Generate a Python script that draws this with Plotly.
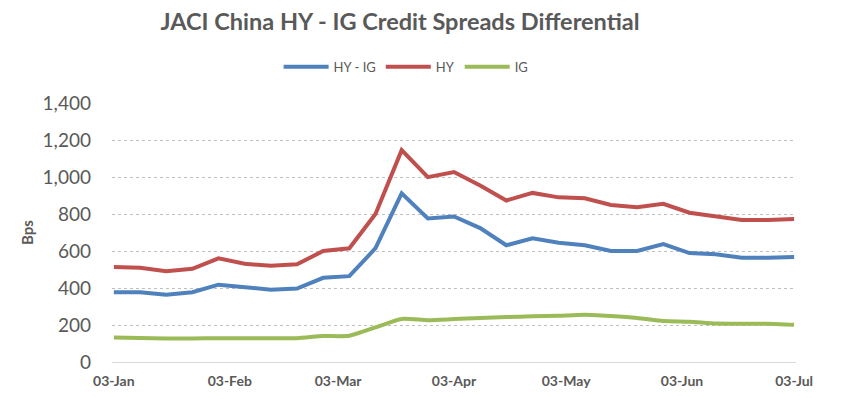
import plotly.graph_objects as go
import pandas as pd

dates = pd.date_range("2020-01-03", periods=27, freq="7D")

hy_minus_ig = [377, 377, 364, 377, 418, 404, 391, 397, 455, 464, 615, 912, 776, 787,
               724, 631, 669, 645, 631, 600, 600, 637, 589, 582, 564, 564, 567]
hy = [514, 509, 491, 504, 560, 531, 520, 528, 600, 615, 800, 1145, 999, 1027,
      954, 873, 914, 890, 885, 849, 836, 855, 807, 785, 767, 767, 773]
ig = [132, 130, 127, 127, 129, 129, 129, 129, 140, 142, 187, 233, 226, 232,
      238, 243, 247, 250, 255, 248, 238, 222, 218, 208, 207, 207, 201]

tick_dates = ["2020-01-03", "2020-02-03", "2020-03-03", "2020-04-03",
              "2020-05-03", "2020-06-03", "2020-07-03"]
tick_text = ["03-Jan", "03-Feb", "03-Mar", "03-Apr", "03-May", "03-Jun", "03-Jul"]
y_ticks = [0, 200, 400, 600, 800, 1000, 1200, 1400]

FONT = "Lato"
GREY = "#595959"

# page body has an 8px default margin, so the figure is drawn 8px smaller
W, H = 849, 391

fig = go.Figure()
fig.add_trace(go.Scatter(x=dates, y=hy_minus_ig, name="HY - IG", mode="lines",
                         line=dict(color="#4F81BD", width=4)))
fig.add_trace(go.Scatter(x=dates, y=hy, name="HY", mode="lines",
                         line=dict(color="#C0504D", width=4)))
fig.add_trace(go.Scatter(x=dates, y=ig, name="IG", mode="lines",
                         line=dict(color="#9BBB59", width=4, shape="spline", smoothing=0.6)))

fig.update_layout(
    width=W, height=H,
    paper_bgcolor="white", plot_bgcolor="white",
    margin=dict(l=104, r=61, t=95, b=37, autoexpand=False),
    font=dict(family=FONT, color=GREY),
    title=dict(text="<b>JACI China HY - IG Credit Spreads Differential</b>",
               x=392 / W, xanchor="center", y=1 - 14 / H, yanchor="middle",
               font=dict(size=23.5, color=GREY, family=FONT)),
    legend=dict(orientation="h", x=0.43, xanchor="center", y=1.14, yanchor="middle",
                font=dict(size=13, color=GREY, family=FONT),
                itemwidth=45, tracegroupgap=0, bgcolor="rgba(0,0,0,0)"),
    showlegend=True,
)
fig.update_xaxes(
    type="date", range=["2020-01-02 12:00", "2020-07-03 12:00"],
    tickvals=tick_dates, ticktext=[f"<b>{t}</b>" for t in tick_text],
    tickfont=dict(size=14, color=GREY, family=FONT),
    showgrid=False, showline=False, zeroline=False, ticks="",
    ticklabelstandoff=9,
)
fig.update_yaxes(
    range=[0, 1400], tickvals=y_ticks, tickformat=",d",
    tickfont=dict(size=19, color=GREY, family=FONT),
    showgrid=True, gridcolor="#BFBFBF", griddash="dot", gridwidth=1,
    zeroline=True, zerolinecolor="#D9D9D9", zerolinewidth=1,
    ticks="", ticklabelstandoff=20,
    title=dict(text="<b>Bps</b>", font=dict(size=15, color=GREY, family=FONT), standoff=5),
)

fig.write_html("out.html")
